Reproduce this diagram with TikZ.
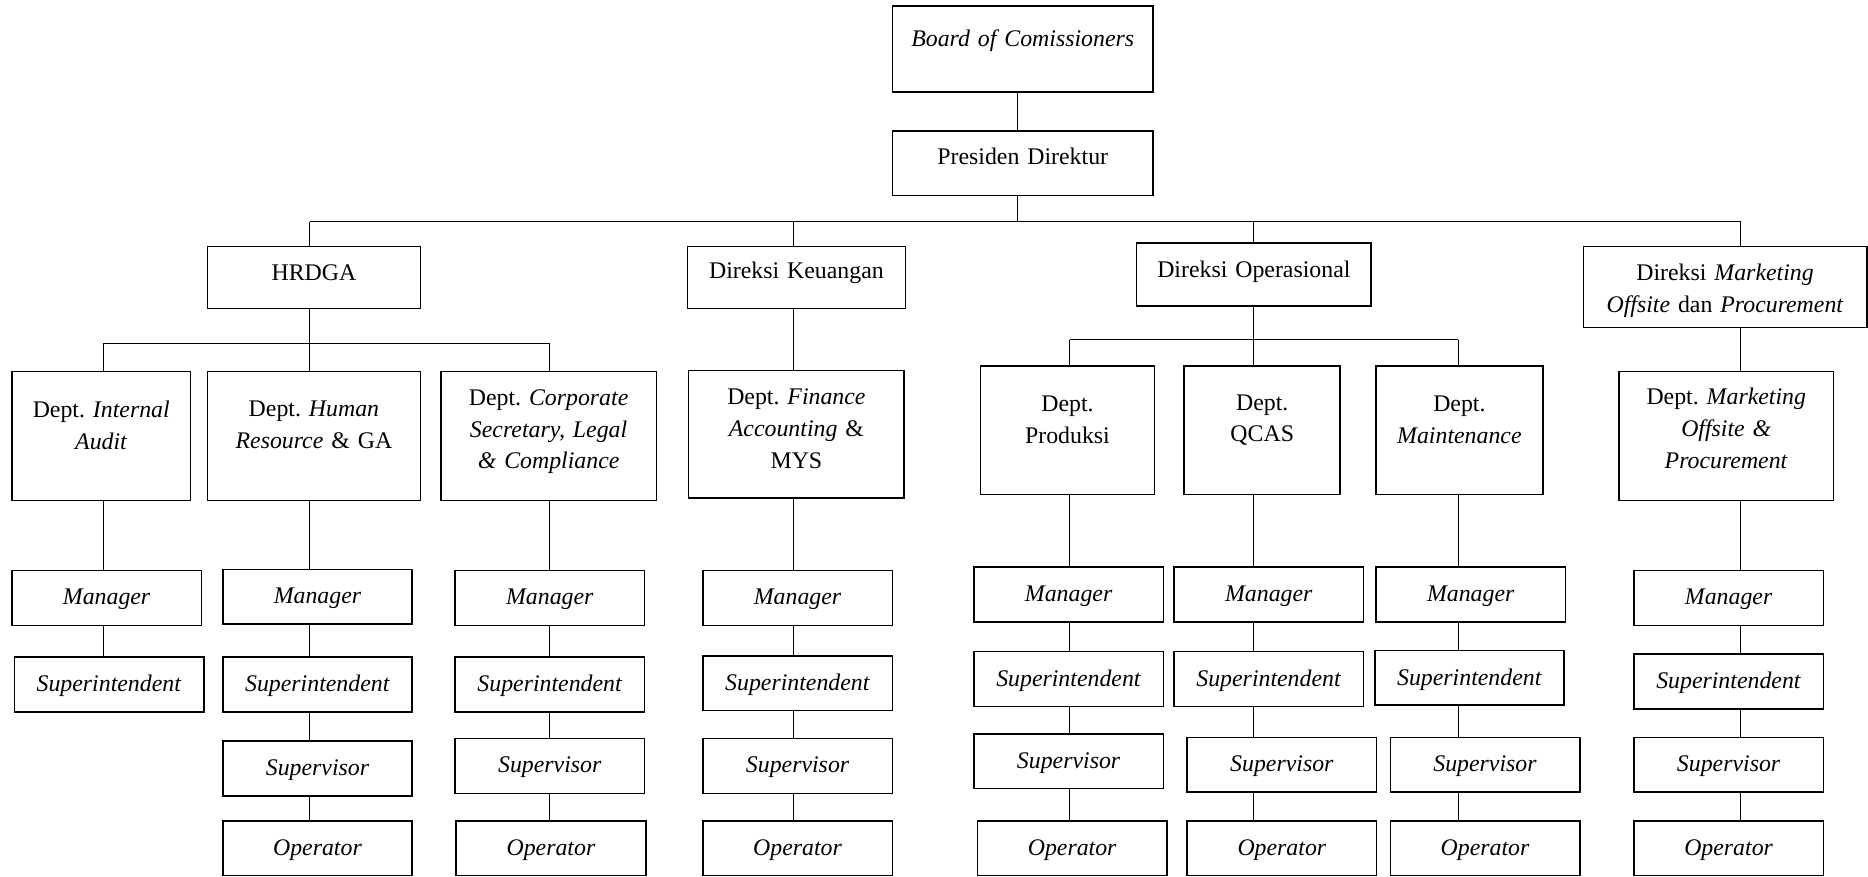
\documentclass[tikz,border=0pt]{standalone}
\usepackage{fontspec}
\setmainfont{Liberation Serif}
\begin{document}
\begin{tikzpicture}
  [x=0.6pt, y=-0.6pt, line width=0.6pt,
   every node/.style={font=\fontsize{12}{16}\selectfont\frenchspacing},
   box/.style 2 args={draw, line width=0.8pt, inner sep=0pt, align=center,
     minimum width=#1*0.6pt, minimum height=#2*0.6pt, text width=#1*0.6pt-8pt},
   lift/.style={execute at end node={\endgraf\kern#1}},
   post/.style={box={159}{46}, lift=-1.5pt}]
  \useasboundingbox (0,0) rectangle (1568,736);

  %Top and direksi boxes
  \node[box={219}{72}, lift=8.4pt] (board) at (858.5,41) {\textit{Board of Comissioners}};
  \node[box={219}{54}, lift=7pt] (pres) at (858.5,137) {Presiden Direktur};
  \node[box={179}{52}, lift=5pt] (hrdga) at (263.5,233) {HRDGA};
  \node[box={183}{52}, lift=5pt] (keu) at (668.5,233) {Direksi Keuangan};
  \node[box={197}{53}, lift=2.6pt] (ops) at (1052.5,230.5) {Direksi Operasional};
  \node[box={238}{68}, lift=-4pt] (mkt) at (1448,241) {Direksi \textit{Marketing}\\\textit{Offsite} dan \textit{Procurement}};

  %Dept boxes
  \node[box={150}{108}, lift=11pt] (ia) at (85,366) {Dept. \textit{Internal}\\\textit{Audit}};
  \node[box={179}{108}, lift=11pt] (hr) at (263.5,366) {Dept. \textit{Human}\\\textit{Resource} \& GA};
  \node[box={181}{108}, lift=4.4pt] (cs) at (460.5,366) {Dept. \textit{Corporate}\\\textit{Secretary, Legal}\\\textit{\& Compliance}};
  \node[box={181}{107}, lift=5.5pt] (fa) at (668.5,364.5) {Dept. \textit{Finance}\\\textit{Accounting} \&\\MYS};
  \node[box={146}{108}, lift=10pt] (pr) at (896,361) {Dept.\\Produksi};
  \node[box={131}{108}, lift=10pt] (qc) at (1059.5,361) {Dept.\\QCAS};
  \node[box={140}{108}, lift=10pt] (mt) at (1225,361) {Dept.\\\textit{Maintenance}};
  \node[box={180}{108}, lift=7.5pt] (mo) at (1449,366) {Dept. \textit{Marketing}\\\textit{Offsite \&}\\\textit{Procurement}};

  %Position boxes
  \foreach \c/\x/\y in {ia/89.5/502, hr/266.5/501, cs/461.5/502, fa/669.5/502,
                        pr/897/499, qc/1065/499, mt/1234.5/499, mo/1451/502}
    \node[post] (\c1) at (\x,\y) {\textit{Manager}};
  \foreach \c/\x/\y in {ia/91.5/574.5, hr/266.5/574.5, cs/461.5/574.5, fa/669.5/573.5,
                        pr/897/570, qc/1065/570, mt/1233.5/569, mo/1451/572}
    \node[post] (\c2) at (\x,\y) {\textit{Superintendent}};
  \foreach \c/\x/\y in {hr/266.5/645, cs/461.5/643, fa/669.5/643,
                        pr/897/639, qc/1076/642, mt/1246.5/642, mo/1451/642}
    \node[post] (\c3) at (\x,\y) {\textit{Supervisor}};
  \foreach \c/\x/\y in {hr/266.5/712, cs/462.5/712, fa/669.5/712,
                        pr/900/712, qc/1076/712, mt/1246.5/712, mo/1451/712}
    \node[post] (\c4) at (\x,\y) {\textit{Operator}};

  %Column lines and bars
  \foreach \c/\x/\y in {ia/87/288, hr/260/288, cs/461/288, fa/666/288,
                        pr/898/285, qc/1052/285, mt/1224/285, mo/1461/285}
    \coordinate (x\c) at (\x,\y);
  \coordinate (top) at (854,186);

  \draw (board.south -| top) -- (pres.north -| top);
  \draw (pres.south -| top) -- (top);
  \draw (top -| xhr) -- (top -| xmo);
  \foreach \n/\c in {hrdga/hr, keu/fa, ops/qc, mkt/mo}
    \draw (top -| x\c) -- (\n.north -| x\c);

  \draw (hrdga.south -| xhr) -- (xhr);
  \draw (xia) -- (xcs);
  \foreach \c in {ia,hr,cs} \draw (x\c) -- (\c.north -| x\c);
  \draw (ops.south -| xqc) -- (xqc);
  \draw (xpr) -- (xmt);
  \foreach \c in {pr,qc,mt} \draw (x\c) -- (\c.north -| x\c);
  \draw (keu.south -| xfa) -- (fa.north -| xfa);
  \draw (mkt.south -| xmo) -- (mo.north -| xmo);

  \draw (ia.south -| xia) -- (ia1.north -| xia) (ia1.south -| xia) -- (ia2.north -| xia);
  \foreach \c in {hr,cs,fa,pr,qc,mt,mo}
    \draw (\c.south -| x\c) -- (\c1.north -| x\c)
          (\c1.south -| x\c) -- (\c2.north -| x\c)
          (\c2.south -| x\c) -- (\c3.north -| x\c)
          (\c3.south -| x\c) -- (\c4.north -| x\c);
\end{tikzpicture}
\end{document}
